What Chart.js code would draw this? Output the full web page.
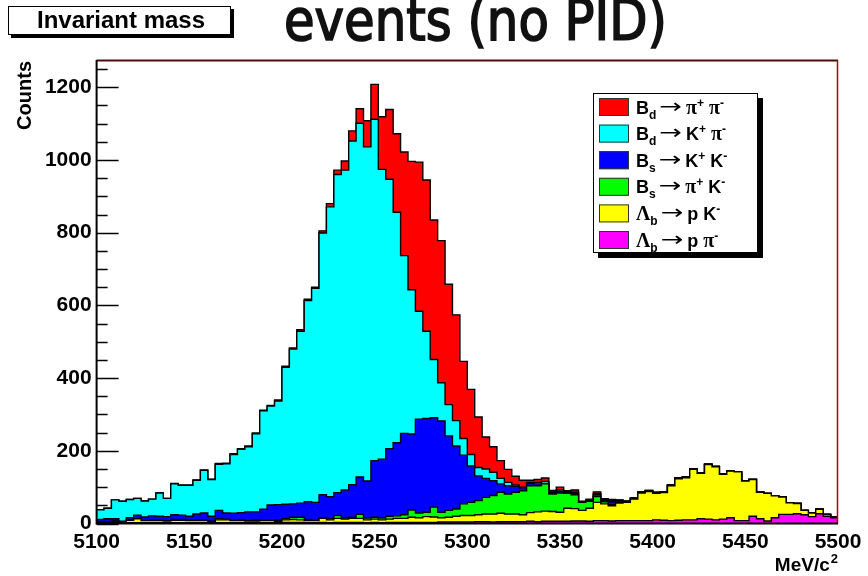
<!DOCTYPE html>
<html>
<head>
<meta charset="utf-8">
<title>Invariant mass</title>
<script src="https://cdn.jsdelivr.net/npm/chart.js@4.4.0/dist/chart.umd.min.js"></script>
<style>
    html, body { margin: 0; padding: 0; background: #fff; }
    #wrap { width: 868px; height: 576px; position: relative; }
</style>
</head>
<body>
<div id="wrap"><canvas id="massChart" width="868" height="576"></canvas></div>
<script>
// ===================== DATA =====================

// 100 bins of 4 MeV/c2, from 5100 to 5500
const binStart = 5100;
const binWidth = 4;
const xTicks = [5100, 5150, 5200, 5250, 5300, 5350, 5400, 5450, 5500];
const yTicks = [0, 200, 400, 600, 800, 1000, 1200];

// Lambda_b -> p pi (bottom of the stack)
const lbPi = [
    2, 2, 2, 2, 2, 2, 2, 2, 2, 2, 2, 2, 2, 2, 2, 2, 2, 2, 2, 2, 2, 2,
    2, 2, 2, 3, 3, 3, 2, 2, 3, 2, 3, 3, 3, 3, 2, 3, 2, 3, 3, 3, 3, 3,
    3, 3, 4, 4, 4, 4, 4, 5, 5, 4, 5, 5, 5, 5, 6, 5, 6, 6,
    6, 6, 7, 7, 6, 8, 8, 7, 8, 8,
    8, 8, 8, 10, 9, 8, 9, 10, 10, 13, 12, 10, 12, 16, 8, 8, 20, 13, 7, 16, 25, 25, 27, 24, 19, 27, 20, 16
];

// Lambda_b -> p K
const lbK = [
    1, 1, 3, 2, 7, 11, 6, 6, 6, 5, 7, 7, 6, 6, 6, 3, 8, 8, 6, 6, 5, 5,
    6, 6, 4, 7, 8, 7, 6, 6, 11, 8, 11, 9, 11, 11, 8, 9, 8, 9, 11, 11, 14, 13,
    16, 15, 12, 13, 16, 18, 18, 19, 21, 22, 23, 21, 21, 19, 24, 27, 28, 27,
    25, 36, 34, 29, 36, 50, 46, 42, 48, 50,
    59, 76, 80, 73, 76, 96, 114, 116, 139, 125, 150, 146, 123, 128, 134, 109, 101, 73, 76, 60, 48, 32, 28, 12, 10, 12, 5, 1
];

// Bs -> pi K
const bsPiK = [
    1, 2, 2, 1, 1, 1, 2, 1, 1, 1, 2, 2, 1, 1, 1, 1, 3, 2, 2, 1, 1, 2,
    2, 2, 3, 3, 6, 7, 3, 2, 2, 3, 8, 3, 3, 11, 5, 5, 5, 8, 7, 10, 20, 13,
    12, 27, 15, 19, 20, 32, 36, 39, 46, 51, 58, 55, 60, 66, 74, 72, 75, 48,
    53, 41, 38, 22, 19, 16, 6, 3, 2, 1,
    1, 1, 1, 1, 1, 1, 1, 1, 1, 1, 1, 1, 1, 0, 0, 0, 0, 0, 0, 0, 0, 0, 0, 0, 0, 0, 0, 0
];

// Bs -> K K
const bsKK = [
    7, 8, 6, 1, 6, 9, 8, 12, 11, 11, 13, 12, 11, 17, 20, 14, 23, 17, 18, 21, 24, 23,
    29, 41, 43, 40, 37, 39, 49, 48, 63, 61, 63, 77, 90, 103, 102, 156, 162, 186, 201, 224, 209, 258,
    258, 246, 251, 205, 173, 134, 100, 68, 52, 41, 23, 23, 16, 8, 6, 5, 1, 5,
    4, 3, 5, 1, 2, 6, 3, 8, 4, 1,
    1, 1, 1, 1, 1, 1, 1, 1, 1, 0, 0, 0, 0, 0, 0, 0, 0, 0, 0, 0, 0, 0, 0, 0, 0, 0, 0, 0
];

// Bd -> K pi
const bdKPi = [
    27, 29, 52, 55, 50, 46, 44, 46, 64, 50, 85, 82, 85, 93, 117, 101, 127, 135, 162, 174, 179, 215,
    271, 272, 285, 377, 426, 473, 553, 589, 720, 797, 875, 880, 945, 973, 919, 939, 797, 741, 634, 489, 397, 297,
    240, 160, 105, 86, 70, 46, 32, 23, 26, 23, 15, 9, 4, 2, 3, 4, 6, 3,
    4, 2, 2, 1, 2, 3, 3, 4, 2, 1,
    1, 1, 1, 1, 0, 0, 0, 0, 0, 0, 0, 0, 0, 0, 0, 0, 0, 0, 0, 0, 0, 0, 0, 0, 0, 0, 0, 0
];

// Bd -> pi pi (top of the stack)
const bdPiPi = [
    0, 0, 0, 0, 0, 0, 0, 0, 0, 0, 1, 1, 1, 1, 1, 1, 2, 2, 2, 2, 2, 2,
    2, 2, 3, 3, 3, 4, 4, 3, 6, 9, 12, 25, 28, 40, 72, 96, 145, 192, 216, 285, 353, 410,
    416, 384, 391, 331, 291, 212, 179, 139, 88, 70, 49, 36, 24, 19, 6, 8, 9, 2,
    8, 2, 6, 1, 2, 4, 2, 2, 1, 1,
    0, 0, 0, 0, 0, 0, 0, 0, 0, 0, 0, 0, 0, 0, 0, 0, 0, 0, 0, 0, 0, 0, 0, 0, 0, 0, 0, 0
];

// ===================== HELPERS =====================

// bin contents -> step points at the bin edges (last edge repeats last bin)
function toSteps(values) {
    const pts = values.map(function(v, i) {
        return { x: binStart + binWidth * i, y: v };
    });
    pts.push({ x: binStart + binWidth * values.length, y: values[values.length - 1] });
    return pts;
}

function layer(label, values, color, fill) {
    return {
        label: label,
        data: toSteps(values),
        backgroundColor: color,
        borderColor: '#000',
        borderWidth: 1.4,
        fill: fill,
        stepped: true,
        pointRadius: 0,
        tension: 0
    };
}

const boldSans = '"Liberation Sans", Arial, sans-serif';

// Legend rows, top to bottom: [text, style]
const legendItems = [
    { color: '#ff0000', parts: [['B', 'main'], ['d', 'sub'], ['\u2192', 'arrow'], ['\u03c0', 'greek'], ['+', 'sup'], [' ', 'main'], ['\u03c0', 'greek'], ['-', 'sup']] },
    { color: '#00ffff', parts: [['B', 'main'], ['d', 'sub'], ['\u2192', 'arrow'], ['K', 'main'], ['+', 'sup'], [' ', 'main'], ['\u03c0', 'greek'], ['-', 'sup']] },
    { color: '#0000ff', parts: [['B', 'main'], ['s', 'sub'], ['\u2192', 'arrow'], ['K', 'main'], ['+', 'sup'], [' ', 'main'], ['K', 'main'], ['-', 'sup']] },
    { color: '#00ff00', parts: [['B', 'main'], ['s', 'sub'], ['\u2192', 'arrow'], ['\u03c0', 'greek'], ['+', 'sup'], [' ', 'main'], ['K', 'main'], ['-', 'sup']] },
    { color: '#ffff00', parts: [['\u039b', 'greek'], ['b', 'sub'], ['\u2192', 'arrow'], ['p', 'main'], [' ', 'main'], ['K', 'main'], ['-', 'sup']] },
    { color: '#ff00ff', parts: [['\u039b', 'greek'], ['b', 'sub'], ['\u2192', 'arrow'], ['p', 'main'], [' ', 'main'], ['\u03c0', 'greek'], ['-', 'sup']] }
];

const partStyles = {
    main:  { font: 'bold 18px ' + boldSans, dy: 0, padL: 0, padR: 0, sx: 1 },
    sub:   { font: 'bold 12px ' + boldSans, dy: 5, padL: 0, padR: 0, sx: 1 },
    sup:   { font: 'bold 12px ' + boldSans, dy: -7, padL: 0, padR: 0, sx: 1 },
    greek: { font: 'bold 20px "Liberation Serif", serif', dy: 0, padL: 0, padR: 0, sx: 1 },
    arrow: { font: '20px "DejaVu Sans", sans-serif', dy: -1, padL: 3, padR: 4, sx: 1.35 }
};

// ===================== PLUGINS =====================

// Inward ticks on the Y axis (drawn under the histograms)
const yAxisTicks = {
    id: 'yAxisTicks',
    beforeDatasetsDraw(chart) {
        const ctx = chart.ctx;
        const area = chart.chartArea;
        const y = chart.scales.y;
        ctx.save();
        ctx.strokeStyle = '#000';
        ctx.lineWidth = 1.5;
        for (let v = 0; v <= y.max; v += 50) {
            const py = Math.round(y.getPixelForValue(v)) + 0.5;
            const len = yTicks.indexOf(v) >= 0 ? 22 : 11;
            ctx.beginPath();
            ctx.moveTo(area.left, py);
            ctx.lineTo(area.left + len, py);
            ctx.stroke();
        }
        ctx.restore();
    }
};

// Frame, titles, legend box
const decorations = {
    id: 'decorations',
    afterDraw(chart) {
        const ctx = chart.ctx;
        const a = chart.chartArea;
        ctx.save();

        // frame
        ctx.lineWidth = 2;
        ctx.strokeStyle = '#4a0c0c';
        ctx.beginPath(); ctx.moveTo(a.left, a.top + 0.5); ctx.lineTo(a.right, a.top + 0.5); ctx.stroke();
        ctx.lineWidth = 1.5;
        ctx.strokeStyle = '#b00000';
        ctx.beginPath(); ctx.moveTo(a.right - 0.5, a.top); ctx.lineTo(a.right - 0.5, a.bottom); ctx.stroke();
        ctx.strokeStyle = '#000';
        ctx.lineWidth = 2;
        ctx.beginPath(); ctx.moveTo(a.left, a.top); ctx.lineTo(a.left, a.bottom); ctx.lineTo(a.right, a.bottom); ctx.stroke();

        // pad title box
        ctx.fillStyle = '#000';
        ctx.fillRect(11, 9, 223, 29);
        ctx.fillStyle = '#fff';
        ctx.fillRect(8, 6, 223, 29);
        ctx.lineWidth = 1;
        ctx.strokeStyle = '#000';
        ctx.strokeRect(8.5, 6.5, 222, 28);
        ctx.fillStyle = '#000';
        ctx.font = 'bold 24px ' + boldSans;
        ctx.textAlign = 'center';
        ctx.textBaseline = 'middle';
        ctx.fillText('Invariant mass', 121, 21.5);

        // big title, only the lower line shows
        ctx.font = '57px "DejaVu Sans Condensed", "DejaVu Sans", sans-serif';
        ctx.textAlign = 'left';
        ctx.textBaseline = 'alphabetic';
        const title = 'events (no PID)';
        const tw = ctx.measureText(title).width;
        const sx = 383 / tw;
        ctx.save();
        ctx.translate(284, 40);
        ctx.scale(sx, 1);
        ctx.fillStyle = '#111';
        ctx.strokeStyle = '#111';
        ctx.lineWidth = 1.6;
        ctx.fillText(title, 0, 0);
        ctx.strokeText(title, 0, 0);
        ctx.restore();

        // y axis title
        ctx.save();
        ctx.translate(25, 61);
        ctx.rotate(-Math.PI / 2);
        ctx.fillStyle = '#000';
        ctx.font = 'bold 20px ' + boldSans;
        ctx.textAlign = 'right';
        ctx.textBaseline = 'middle';
        ctx.fillText('Counts', 0, 0);
        ctx.restore();

        // x axis title
        ctx.fillStyle = '#000';
        ctx.textBaseline = 'alphabetic';
        ctx.font = 'bold 13px ' + boldSans;
        const w2 = ctx.measureText('2').width;
        ctx.textAlign = 'right';
        ctx.fillText('2', a.right, 563);
        ctx.font = 'bold 19px ' + boldSans;
        ctx.fillText('MeV/c', a.right - w2 - 1, 571);

        // legend box with shadow
        const box = { x: 593, y: 93, w: 165, h: 160 };
        ctx.fillStyle = '#000';
        ctx.fillRect(box.x + 5, box.y + 5, box.w, box.h);
        ctx.fillStyle = '#fff';
        ctx.fillRect(box.x, box.y, box.w, box.h);
        ctx.strokeStyle = '#000';
        ctx.lineWidth = 1;
        ctx.strokeRect(box.x + 0.5, box.y + 0.5, box.w - 1, box.h - 1);

        legendItems.forEach(function(item, k) {
            const cy = 107 + 26.6 * k;
            ctx.fillStyle = item.color;
            ctx.fillRect(599, cy - 9, 30, 18);
            ctx.strokeStyle = '#333';
            ctx.strokeRect(599.5, cy - 8.5, 29, 17);
            let x = 636;
            const base = cy + 6.5;
            ctx.fillStyle = '#000';
            ctx.textAlign = 'left';
            item.parts.forEach(function(p) {
                const st = partStyles[p[1]];
                ctx.font = st.font;
                x += st.padL;
                ctx.save();
                ctx.translate(x, base + st.dy);
                ctx.scale(st.sx, 1);
                ctx.fillText(p[0], 0, 0);
                ctx.restore();
                x += ctx.measureText(p[0]).width * st.sx + st.padR;
            });
        });

        ctx.restore();
    }
};

// ===================== CHART =====================

const tickFont = { family: boldSans, weight: 'bold', size: 21 };

const massChart = new Chart(document.getElementById('massChart').getContext('2d'), {
    type: 'line',
    data: {
        datasets: [
            layer('\u039bb \u2192 p \u03c0-', lbPi, '#ff00ff', 'origin'),
            layer('\u039bb \u2192 p K-', lbK, '#ffff00', '-1'),
            layer('Bs \u2192 \u03c0+ K-', bsPiK, '#00ff00', '-1'),
            layer('Bs \u2192 K+ K-', bsKK, '#0000ff', '-1'),
            layer('Bd \u2192 K+ \u03c0-', bdKPi, '#00ffff', '-1'),
            layer('Bd \u2192 \u03c0+ \u03c0-', bdPiPi, '#ff0000', '-1')
        ]
    },
    options: {
        responsive: false,
        animation: false,
        devicePixelRatio: 1,
        layout: { padding: { top: 60, right: 30, left: 0, bottom: 0 } },
        plugins: {
            legend: { display: false },
            tooltip: { enabled: false },
            filler: { propagate: false }
        },
        scales: {
            x: {
                type: 'linear',
                min: 5100,
                max: 5500,
                grid: { display: false, drawTicks: false },
                border: { display: false },
                ticks: {
                    autoSkip: false,
                    maxRotation: 0,
                    padding: 6,
                    color: '#000',
                    font: tickFont,
                    callback: function(v) { return String(v); }
                },
                afterBuildTicks: function(s) { s.ticks = xTicks.map(function(v) { return { value: v }; }); },
                afterFit: function(s) { s.height = 52.5; }
            },
            y: {
                type: 'linear',
                stacked: true,
                min: 0,
                max: 1275,
                grid: { display: false, drawTicks: false },
                border: { display: false },
                ticks: {
                    padding: 5,
                    color: '#000',
                    font: tickFont,
                    callback: function(v) { return String(v); }
                },
                afterBuildTicks: function(s) { s.ticks = yTicks.map(function(v) { return { value: v }; }); },
                afterFit: function(s) { s.width = 96.6; }
            }
        }
    },
    plugins: [yAxisTicks, decorations]
});
</script>
</body>
</html>
